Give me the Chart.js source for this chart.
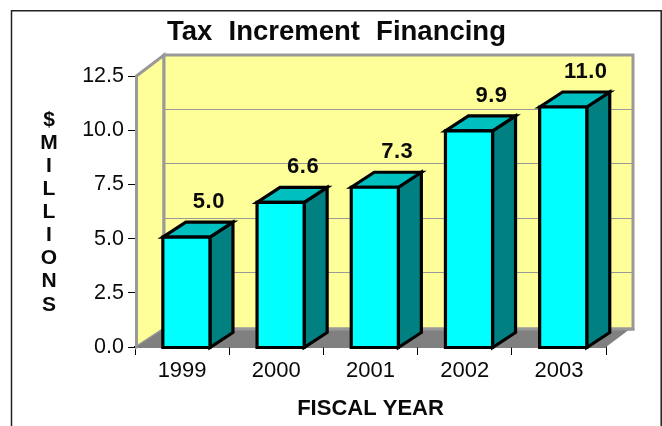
<!DOCTYPE html>
<html>
<head>
<meta charset="utf-8">
<title>Tax Increment Financing</title>
<script src="https://cdn.jsdelivr.net/npm/chart.js@4"></script>
<style>
  html, body { margin: 0; padding: 0; background: #fff; }
  canvas { display: block; }
</style>
</head>
<body>
<canvas id="graphique" width="662" height="426"></canvas>
<script>
const titre = "Tax Increment Financing"
const titreY = ["$", "M", "I", "L", "L", "I", "O", "N", "S"]
const titreX = "FISCAL YEAR"
const annees = ["1999", "2000", "2001", "2002", "2003"]
const valeurs = [5.0, 6.6, 7.3, 9.9, 11.0]

const POLICE = "'Liberation Sans', Arial, sans-serif"
const ENCRE = "#0a0a0a"
const GRIS_MUR = "#999999"
const JAUNE = "#FFFF99"

// Profondeur du décor (murs, sol) et des barres
const MUR = { dx: 29, dy: -21, sol: -18 }
const BARRE = { dx: 23, dy: -15, decalX: 4.3, decalY: -1.5 }

function polygone(ctx, points, fond, trait, epaisseur) {
  ctx.beginPath()
  points.forEach((p, i) => (i ? ctx.lineTo(p[0], p[1]) : ctx.moveTo(p[0], p[1])))
  ctx.closePath()
  if (fond) {
    ctx.fillStyle = fond
    ctx.fill()
  }
  if (trait) {
    ctx.strokeStyle = trait
    ctx.lineWidth = epaisseur
    ctx.lineJoin = "miter"
    ctx.stroke()
  }
}

/* Cadre, titre et lettres empilées de l'axe vertical */
const habillage = {
  id: "habillage",
  beforeDraw(chart) {
    const ctx = chart.ctx
    ctx.save()
    ctx.strokeStyle = "#222"
    ctx.lineWidth = 1.5
    ctx.beginPath()
    ctx.moveTo(11.5, 426)
    ctx.lineTo(11.5, 10.7)
    ctx.lineTo(661.2, 10.7)
    ctx.lineTo(661.2, 426)
    ctx.stroke()

    ctx.fillStyle = ENCRE
    ctx.textAlign = "center"
    ctx.textBaseline = "alphabetic"
    ctx.font = "bold 27.5px " + POLICE
    ctx.wordSpacing = "8.5px"
    ctx.fillText(titre, 336.5, 40)
    ctx.wordSpacing = "0px"

    ctx.font = "bold 21px " + POLICE
    ctx.textBaseline = "middle"
    titreY.forEach((lettre, i) => ctx.fillText(lettre, 49, 120 + i * 23.1))
    ctx.restore()
  },
}

/* Murs, sol et lignes de grille sur le mur du fond */
const decor = {
  id: "decor",
  beforeDatasetsDraw(chart) {
    const ctx = chart.ctx
    const { left, right, top, bottom } = chart.chartArea
    const fond = { x0: left + MUR.dx, x1: right + MUR.dx - 2, haut: top + MUR.dy, bas: bottom + MUR.sol }

    ctx.save()
    polygone(ctx, [[left + 1.5, top], [fond.x0, fond.haut], [fond.x0, fond.bas], [left + 1.5, bottom]], JAUNE, GRIS_MUR, 3)
    polygone(ctx, [[fond.x0, fond.haut], [fond.x1, fond.haut], [fond.x1, fond.bas], [fond.x0, fond.bas]], JAUNE, GRIS_MUR, 3)

    ctx.strokeStyle = "#9a9a9a"
    ctx.lineWidth = 1
    chart.scales.y.ticks.forEach((tick) => {
      if (tick.value === 0 || tick.value === 12.5) return
      const y = Math.round(chart.scales.y.getPixelForValue(tick.value) + MUR.dy) + 0.5
      ctx.beginPath()
      ctx.moveTo(fond.x0 + 1, y)
      ctx.lineTo(fond.x1 - 1, y)
      ctx.stroke()
    })

    polygone(ctx, [[left + 1, bottom], [fond.x0, fond.bas], [fond.x1 - 3, fond.bas], [right, bottom]], "#808080", null, 0)
    ctx.fillStyle = GRIS_MUR
    ctx.fillRect(fond.x0 - 1, fond.bas - 1.5, fond.x1 - fond.x0 + 2.5, 3)
    ctx.restore()
  },
  // Les barres sont tracées en trois faces par barres3d
  beforeDatasetDraw() {
    return false
  },
}

/* Barres en relief et valeurs, à partir des éléments calculés par Chart.js */
const barres3d = {
  id: "barres3d",
  afterDatasetsDraw(chart) {
    const ctx = chart.ctx
    const meta = chart.getDatasetMeta(0)
    const ds = chart.data.datasets[0]

    ctx.save()
    meta.data.forEach((el, i) => {
      const x0 = el.x - el.width / 2 + BARRE.decalX
      const x1 = el.x + el.width / 2 + BARRE.decalX
      const haut = el.y + BARRE.decalY
      const bas = el.base + 1
      const { dx, dy } = BARRE

      polygone(ctx, [[x1, haut], [x1 + dx, haut + dy], [x1 + dx, bas + dy], [x1, bas]], "#008080", "#000", 3.2)
      polygone(ctx, [[x0, haut], [x0 + dx, haut + dy], [x1 + dx, haut + dy], [x1, haut]], "#00BFBF", "#000", 3.2)
      polygone(ctx, [[x0, haut], [x1, haut], [x1, bas], [x0, bas]], ds.backgroundColor, "#000", 3.2)

      ctx.fillStyle = ENCRE
      ctx.font = "bold 22px " + POLICE
      ctx.letterSpacing = "0.5px"
      ctx.textAlign = "center"
      ctx.textBaseline = "middle"
      ctx.fillText(valeurs[i].toFixed(1), x0 + el.width / 2 + 22.5, haut - 35)
    })
    ctx.restore()
  },
}

new Chart(document.querySelector("#graphique"), {
  type: "bar",
  data: {
    labels: annees,
    datasets: [
      {
        data: valeurs,
        backgroundColor: "#00FFFF",
        barPercentage: 0.5,
        categoryPercentage: 1,
      },
    ],
  },
  options: {
    responsive: false,
    animation: false,
    devicePixelRatio: 1,
    layout: { padding: { left: 0, right: 56, top: 76, bottom: 0 } },
    plugins: { legend: { display: false }, title: { display: false }, tooltip: { enabled: false } },
    scales: {
      x: {
        afterFit(scale) {
          scale.height = 79
        },
        grid: { drawOnChartArea: false, color: "#000", tickLength: 8 },
        border: { color: "#000", width: 1.5 },
        ticks: { color: ENCRE, font: { family: POLICE, size: 22 }, padding: 3, maxRotation: 0 },
        title: {
          display: true,
          text: titreX,
          color: ENCRE,
          font: { family: POLICE, size: 22, weight: "bold" },
          padding: { top: 0, bottom: 4 },
        },
      },
      y: {
        min: 0,
        max: 12.5,
        afterFit(scale) {
          scale.width = 135
        },
        grid: { drawOnChartArea: false, color: "#000", tickLength: 7 },
        border: { color: "#000", width: 1 },
        ticks: {
          stepSize: 2.5,
          color: ENCRE,
          padding: 4,
          font: { family: POLICE, size: 21.5 },
          callback: (v) => v.toFixed(1),
        },
      },
    },
  },
  plugins: [habillage, decor, barres3d],
})
</script>
</body>
</html>
